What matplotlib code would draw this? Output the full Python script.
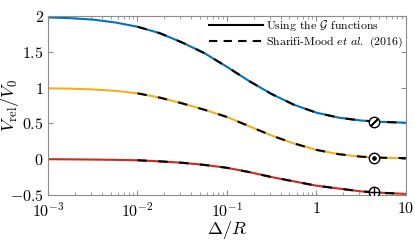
import numpy as np
import matplotlib
matplotlib.use("Agg")
import matplotlib.pyplot as plt
from matplotlib.lines import Line2D

plt.rcParams['font.family'] = 'serif'
plt.rcParams['font.serif'] = ['cmr10', 'DejaVu Serif']
plt.rcParams['mathtext.fontset'] = 'cm'
plt.rcParams['axes.formatter.use_mathtext'] = True
plt.rcParams['axes.unicode_minus'] = True

# data (log10 of Delta/R grid)
log_x = [-3.0, -2.75, -2.5, -2.25, -2.0, -1.75, -1.5, -1.25, -1.0,
         -0.75, -0.5, -0.25, 0.0, 0.25, 0.5, 0.75, 1.0]
v_blue = [1.98, 1.97, 1.95, 1.91, 1.85, 1.76, 1.63, 1.48, 1.29,
          1.09, 0.91, 0.76, 0.65, 0.58, 0.54, 0.52, 0.51]
v_yellow = [0.99, 0.985, 0.975, 0.955, 0.92, 0.86, 0.78, 0.69, 0.59,
            0.46, 0.33, 0.22, 0.13, 0.07, 0.035, 0.02, 0.015]
v_red = [0.0, -0.002, -0.005, -0.009, -0.015, -0.03, -0.05, -0.08, -0.12,
         -0.18, -0.25, -0.31, -0.37, -0.41, -0.45, -0.47, -0.485]
dash_start = -2.0
marker_x = 4.4
marker_v = [0.52, 0.02, -0.465]
legend_labels = [r"Using the $\mathcal{G}$ functions",
                 r"Sharifi-Mood $\it{et\ al.}$ (2016)"]

colors = ['#0072BD', '#F2B01E', '#CC2A1A']
x = 10.0 ** np.array(log_x)

fig = plt.figure(figsize=(4.15, 2.4), dpi=100)
ax = fig.add_axes([0.1157, 0.1875, 0.8623, 0.7458])

dash_mask = np.array(log_x) >= dash_start
for v, c in zip([v_blue, v_yellow, v_red], colors):
    v = np.array(v)
    ax.plot(x, v, color=c, lw=1.5, solid_capstyle='butt', zorder=2)
    ax.plot(x[dash_mask], v[dash_mask], color='black', lw=1.5,
            dashes=(4.5, 5.5), zorder=3)

# markers
ms = 7.5
for mv, inner in zip(marker_v, ['slash', 'dot', 'plus']):
    ax.plot([marker_x], [mv], marker='o', ms=ms, mfc='white', mec='black',
            mew=1.0, zorder=5, ls='none')
    if inner == 'slash':
        ax.plot([marker_x], [mv], marker=(2, 2, -45), ms=ms, mec='black',
                mew=1.0, zorder=6, ls='none')
    elif inner == 'dot':
        ax.plot([marker_x], [mv], marker='o', ms=2.3, mfc='black', mec='black',
                zorder=6, ls='none')
    else:
        ax.plot([marker_x], [mv], marker='+', ms=ms, mec='black',
                mew=1.0, zorder=6, ls='none')

ax.set_xscale('log')
ax.set_xlim(1e-3, 10)
ax.set_ylim(-0.5, 2)
ax.set_yticks([-0.5, 0, 0.5, 1, 1.5, 2])
ax.set_yticklabels([r'$-0.5$', r'$0$', r'$0.5$', r'$1$', r'$1.5$', r'$2$'])
ax.set_xticks([1e-3, 1e-2, 1e-1, 1, 10])
ax.set_xticklabels([r'$10^{-3}$', r'$10^{-2}$', r'$10^{-1}$', r'$1$', r'$10$'])

for s in ax.spines.values():
    s.set_color('#8c8c8c')
    s.set_linewidth(0.8)
ax.tick_params(which='both', direction='in', top=True, right=True,
               color='#8c8c8c', labelsize=11.5, pad=3)
ax.tick_params(axis='x', which='both', pad=4.5)
ax.tick_params(which='major', length=3.5)
ax.tick_params(which='minor', length=2)

ax.set_xlabel(r'$\Delta/R$', fontsize=13)
ax.set_ylabel(r'$V_{\rm rel}/V_0$', fontsize=13)
ax.xaxis.set_label_coords(0.5, -0.135)
ax.yaxis.set_label_coords(-0.075, 0.5)

handles = [Line2D([], [], color='black', lw=1.5),
           Line2D([], [], color='black', lw=1.5, dashes=(4, 3))]
ax.legend(handles, legend_labels, loc='upper right', frameon=False,
          fontsize=8.5, handlelength=4.6, borderaxespad=0.0, borderpad=0.15,
          bbox_to_anchor=(0.995, 1.0), labelspacing=0.2, handletextpad=0.2)

fig.savefig('out.png', dpi=100)
